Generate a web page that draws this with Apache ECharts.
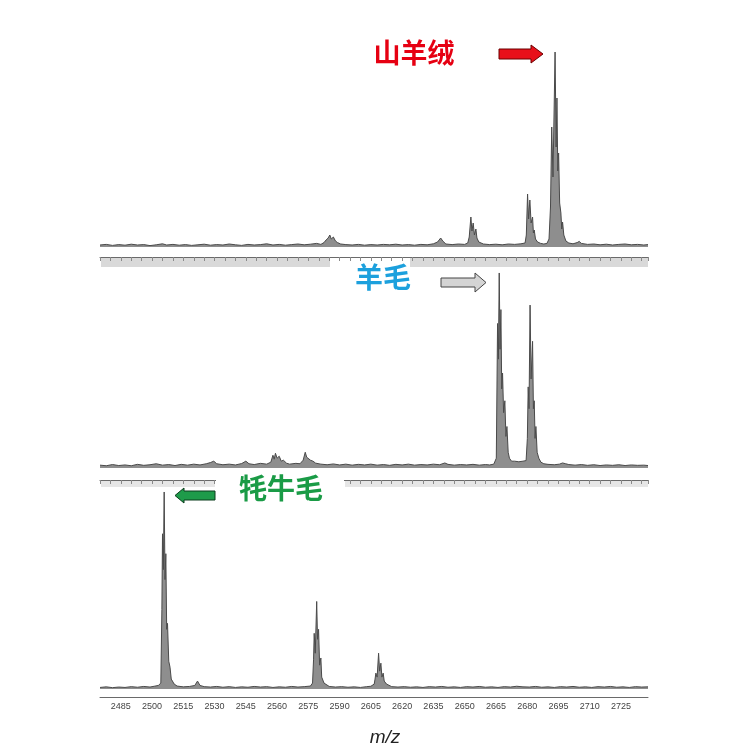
<!DOCTYPE html>
<html><head><meta charset="utf-8">
<script src="https://cdn.jsdelivr.net/npm/echarts@6/dist/echarts.min.js"></script>
<style>html,body{margin:0;padding:0;background:#fff}#c{width:756px;height:755px}</style>
</head><body><div id="c"></div>
<script>
// m/z axis tick labels
const tickLabels = [2485,2500,2515,2530,2545,2560,2575,2590,2605,2620,2635,2650,2665,2680,2695,2710,2725];
const panelNames = ['山羊绒','羊毛','牦牛毛'];
// goat cashmere spectrum [m/z, relative intensity]
const goatSpectrum = [
[2475,1.0],[2478,1.3],[2481,0.8],[2484,1.2],[2487,0.9],[2490,1.4],[2493,1.0],[2496,1.2],[2499,0.7],[2502,1.1],
[2505,1.6],[2507,1.0],[2510,1.3],[2513,0.9],[2516,1.2],[2519,0.8],[2522,1.1],[2525,1.4],[2528,0.9],[2531,1.2],
[2534,1.0],[2537,1.5],[2540,1.1],[2543,0.8],[2546,1.3],[2549,1.0],[2552,1.2],[2555,1.6],[2558,1.0],[2561,1.3],
[2564,0.9],[2567,1.2],[2570,1.5],[2573,1.1],[2576,1.4],[2579,1.8],[2581,1.3],[2582.5,2.2],[2583.5,3.5],[2584.5,4.5],
[2585.3,6.0],[2586,4.0],[2587,5.0],[2588,3.0],[2589,2.2],[2590.5,1.5],[2593,1.2],[2596,1.0],[2599,1.3],[2602,0.9],
[2605,1.2],[2608,1.0],[2611,1.3],[2614,1.1],[2617,1.4],[2620,1.0],[2623,1.2],[2626,0.9],[2629,1.3],[2632,1.1],
[2635,1.6],[2637,2.5],[2638.5,4.5],[2639.5,3.0],[2641,1.5],[2644,1.2],[2647,1.5],[2650,1.3],[2651.5,2.0],[2652.2,5],
[2653,15],[2653.5,8],[2654.1,12],[2654.7,6],[2655.4,9],[2655.9,4.5],[2656.2,5],[2656.8,2.5],[2657.5,1.8],[2659,1.5],
[2662,1.2],[2665,1.4],[2668,1.1],[2671,1.5],[2674,1.3],[2677,1.6],[2679,2.0],[2679.6,6],[2680.2,26.5],[2680.7,14],
[2681.3,23.5],[2681.9,12],[2682.6,15],[2683.0,7],[2683.4,8.5],[2684,4],[2685,2.5],[2686.5,1.8],[2688,1.5],[2689.5,1.8],
[2690.5,4],[2691.2,20],[2691.8,60],[2692.4,35],[2693.4,97.5],[2693.9,50],[2694.3,74.5],[2694.7,38],[2695.1,47],[2695.6,22],
[2696.2,17],[2696.6,9],[2697,12.5],[2697.6,6],[2698.6,3],[2700,2],[2702,1.6],[2704,2.2],[2705,2.8],[2706,1.8],
[2709,1.3],[2712,1.5],[2715,1.1],[2718,1.4],[2721,1.0],[2724,1.3],[2727,1.5],[2730,1.1],[2733,1.3],[2736,1.0],[2738,1.2]
];
// sheep wool spectrum
const woolSpectrum = [
[2475,1.5],[2478,1.2],[2481,1.8],[2484,1.3],[2487,1.6],[2490,1.2],[2493,1.9],[2496,1.4],[2499,1.7],[2502,2.2],
[2505,1.5],[2508,1.8],[2511,1.3],[2514,1.9],[2517,1.5],[2520,2.0],[2523,1.6],[2526,2.2],[2528,2.8],[2529.6,3.5],
[2531,2.2],[2534,1.7],[2537,2.0],[2540,1.6],[2543,2.3],[2545,3.5],[2546.5,2.2],[2549,1.8],[2552,2.4],[2555,2.0],
[2557,3.0],[2558,6.5],[2558.6,4.5],[2559.2,7.5],[2560,5],[2561,6],[2562,3.5],[2563,4.0],[2564.5,2.5],[2566,2.0],
[2569,2.4],[2571,2.2],[2572.5,4.0],[2573.5,8.0],[2574.2,5.5],[2575,6.5],[2576,4.0],[2577.2,3.5],[2578.5,2.5],[2581,2.0],
[2584,1.7],[2587,2.1],[2590,1.6],[2593,2.0],[2596,1.5],[2599,1.9],[2602,1.6],[2605,2.0],[2608,1.5],[2611,1.8],
[2614,1.4],[2617,1.9],[2620,1.6],[2623,2.0],[2626,1.5],[2629,1.8],[2632,1.6],[2635,2.0],[2638,1.7],[2640.5,2.6],
[2642,1.9],[2645,1.5],[2648,1.8],[2651,1.6],[2654,1.9],[2657,1.5],[2660,1.8],[2662,1.6],[2664,2.0],[2665.2,5],
[2665.8,73],[2666.2,55],[2666.6,98.5],[2667,60],[2667.4,80],[2667.8,40],[2668.2,48],[2668.7,28],[2669.3,34],[2669.8,16],
[2670.3,21],[2670.9,8],[2671.5,5],[2672.5,3.5],[2674,3.5],[2676,3.2],[2678,3.5],[2679.5,3.8],[2680.1,15],[2680.5,41],
[2680.9,30],[2681.4,82.3],[2681.9,45],[2682.6,64],[2683,30],[2683.4,34],[2683.8,15],[2684.2,21],[2684.8,8],[2685.6,5],
[2686.6,3],[2688,2.2],[2690,1.9],[2693,1.7],[2695.5,2.0],[2697,2.6],[2697.7,3.3],[2698.5,2.2],[2700,1.8],[2703,1.5],
[2706,1.8],[2709,1.4],[2712,1.7],[2715,1.3],[2718,1.6],[2721,1.4],[2724,1.7],[2727,1.3],[2730,1.6],[2733,1.4],[2736,1.5],[2738,1.3]
];
// yak hair spectrum
const yakSpectrum = [
[2475,0.8],[2478,1.1],[2481,0.7],[2484,1.0],[2487,0.8],[2490,1.2],[2493,0.9],[2496,1.3],[2499,1.0],[2501,1.4],
[2503,1.8],[2504.2,3],[2504.7,40],[2505,78],[2505.4,60],[2505.8,99],[2506.2,55],[2506.6,68],[2507,30],[2507.4,33],
[2508,14],[2508.6,11],[2509.2,5],[2509.8,6],[2510.6,2.5],[2512,1.5],[2515,1.1],[2518,1.3],[2520.5,1.8],[2521.8,4],
[2523,1.8],[2525,1.2],[2528,1.0],[2531,1.3],[2534,0.9],[2537,1.2],[2540,0.8],[2543,1.1],[2546,0.9],[2549,1.3],
[2552,1.0],[2555,1.2],[2558,0.8],[2561,1.1],[2564,0.9],[2567,1.3],[2570,1.0],[2573,1.2],[2576,1.5],[2577,3],
[2577.5,15],[2577.8,28],[2578.3,18],[2579,44],[2579.4,25],[2579.9,30],[2580.4,12],[2581,15.6],[2581.4,6],[2581.8,6],
[2582.5,3],[2583.4,2],[2585,1.3],[2588,1.0],[2591,1.2],[2594,0.9],[2597,1.1],[2600,0.8],[2603,1.2],[2605,1.4],
[2606.6,2.5],[2607,5],[2607.4,8],[2608,6],[2608.7,18],[2609.2,9],[2609.8,13],[2610.3,6],[2610.9,8],[2611.4,4],
[2611.9,4.5],[2612.5,2.5],[2613,1.8],[2615,1.2],[2618,1.0],[2621,1.2],[2624,0.9],[2627,1.1],[2630,0.8],[2633,1.2],
[2636,1.0],[2639,1.3],[2642,0.9],[2645,1.1],[2648,0.8],[2651,1.2],[2654,1.0],[2657,1.3],[2660,0.9],[2663,1.1],
[2666,0.8],[2669,1.2],[2672,1.0],[2675,1.4],[2678,1.1],[2681,1.0],[2684,1.3],[2687,0.9],[2690,1.1],[2693,0.8],
[2696,1.2],[2699,1.0],[2702,1.3],[2705,0.9],[2708,1.1],[2711,0.8],[2714,1.2],[2717,1.0],[2720,1.3],[2723,0.9],
[2726,1.1],[2729,0.8],[2732,1.2],[2735,1.0],[2738,1.1]
];

const chart = echarts.init(document.getElementById('c'), null, {renderer:'canvas'});
const XMIN = 2475, XMAX = 2738;
function stripAxis(idx){
  return {type:'value', gridIndex:idx, min:XMIN, max:XMAX, interval:5,
    axisLine:{show:true, onZero:false, lineStyle:{color:'#6a6a6a', width:1}},
    axisTick:{show:true, length:4, lineStyle:{color:'#8a8a8a'}},
    axisLabel:{show:false}, splitLine:{show:false}};
}
function yAx(idx, mn){
  return {type:'value', gridIndex:idx, min:mn, max:100, show:false, splitLine:{show:false}};
}
function spec(idx, data){
  return {type:'line', xAxisIndex:idx, yAxisIndex:idx, data:data, showSymbol:false, silent:true,
    lineStyle:{color:'#4a4a4a', width:1}, areaStyle:{color:'#8e8e8e', origin:0, opacity:1}, z:3};
}
chart.setOption({
  animation:false,
  backgroundColor:'#fff',
  grid:[
    {left:100, right:108, top:47, height:210},
    {left:100, right:108, top:270, height:210},
    {left:100, right:108, top:490, height:207}
  ],
  xAxis:[
    stripAxis(0), stripAxis(1),
    {type:'value', gridIndex:2, min:XMIN, max:XMAX,
      axisLine:{show:true, onZero:false, lineStyle:{color:'#6a6a6a', width:1}},
      axisTick:{show:false},
      axisLabel:{show:true, customValues:tickLabels, fontSize:9, color:'#444', margin:5, fontFamily:'Liberation Sans',
        formatter:function(v){return String(v);}},
      splitLine:{show:false}}
  ],
  yAxis:[yAx(0,-5), yAx(1,-6), yAx(2,-4)],
  series:[spec(0, goatSpectrum), spec(1, woolSpectrum), spec(2, yakSpectrum)],
  graphic:[
    {type:'rect', z:-1, shape:{x:101, y:258, width:229, height:9}, style:{fill:'#d9d9d9'}},
    {type:'rect', z:-1, shape:{x:410, y:258, width:238, height:9}, style:{fill:'#d9d9d9'}},
    {type:'rect', z:-1, shape:{x:101, y:481, width:114, height:6}, style:{fill:'#e6e6e6'}},
    {type:'rect', z:-1, shape:{x:345, y:481, width:303, height:6}, style:{fill:'#e6e6e6'}},
    {type:'rect', z:50, shape:{x:216, y:474, width:128, height:20}, style:{fill:'#fff'}},
    {type:'text', z:60, x:414, y:53, style:{text:panelNames[0], fill:'#e60012', font:'bold 27px "Noto Sans CJK SC"', textAlign:'center', textVerticalAlign:'middle'}},
    {type:'text', z:60, x:383, y:277, style:{text:panelNames[1], fill:'#1ca0dd', font:'bold 28px "Noto Sans CJK SC"', textAlign:'center', textVerticalAlign:'middle'}},
    {type:'text', z:60, x:281, y:488, style:{text:panelNames[2], fill:'#1a9b46', font:'bold 28px "Noto Sans CJK SC"', textAlign:'center', textVerticalAlign:'middle'}},
    {type:'polygon', z:60, shape:{points:[[499,49],[531,49],[531,45],[543,54],[531,63],[531,59],[499,59]]}, style:{fill:'#e8101a', stroke:'#6a0000', lineWidth:1}},
    {type:'polygon', z:60, shape:{points:[[441,278],[475,278],[475,273],[486,282.5],[475,292],[475,287],[441,287]]}, style:{fill:'#d4d4d4', stroke:'#444', lineWidth:1}},
    {type:'polygon', z:60, shape:{points:[[215,491],[184,491],[184,488],[175,495.5],[184,503],[184,500],[215,500]]}, style:{fill:'#1e9b4a', stroke:'#0b3d1c', lineWidth:1}},
    {type:'text', z:60, x:385, y:738, style:{text:'m/z', fill:'#222', font:'italic 19px "Liberation Sans"', textAlign:'center', textVerticalAlign:'middle'}}
  ]
});
</script></body></html>
